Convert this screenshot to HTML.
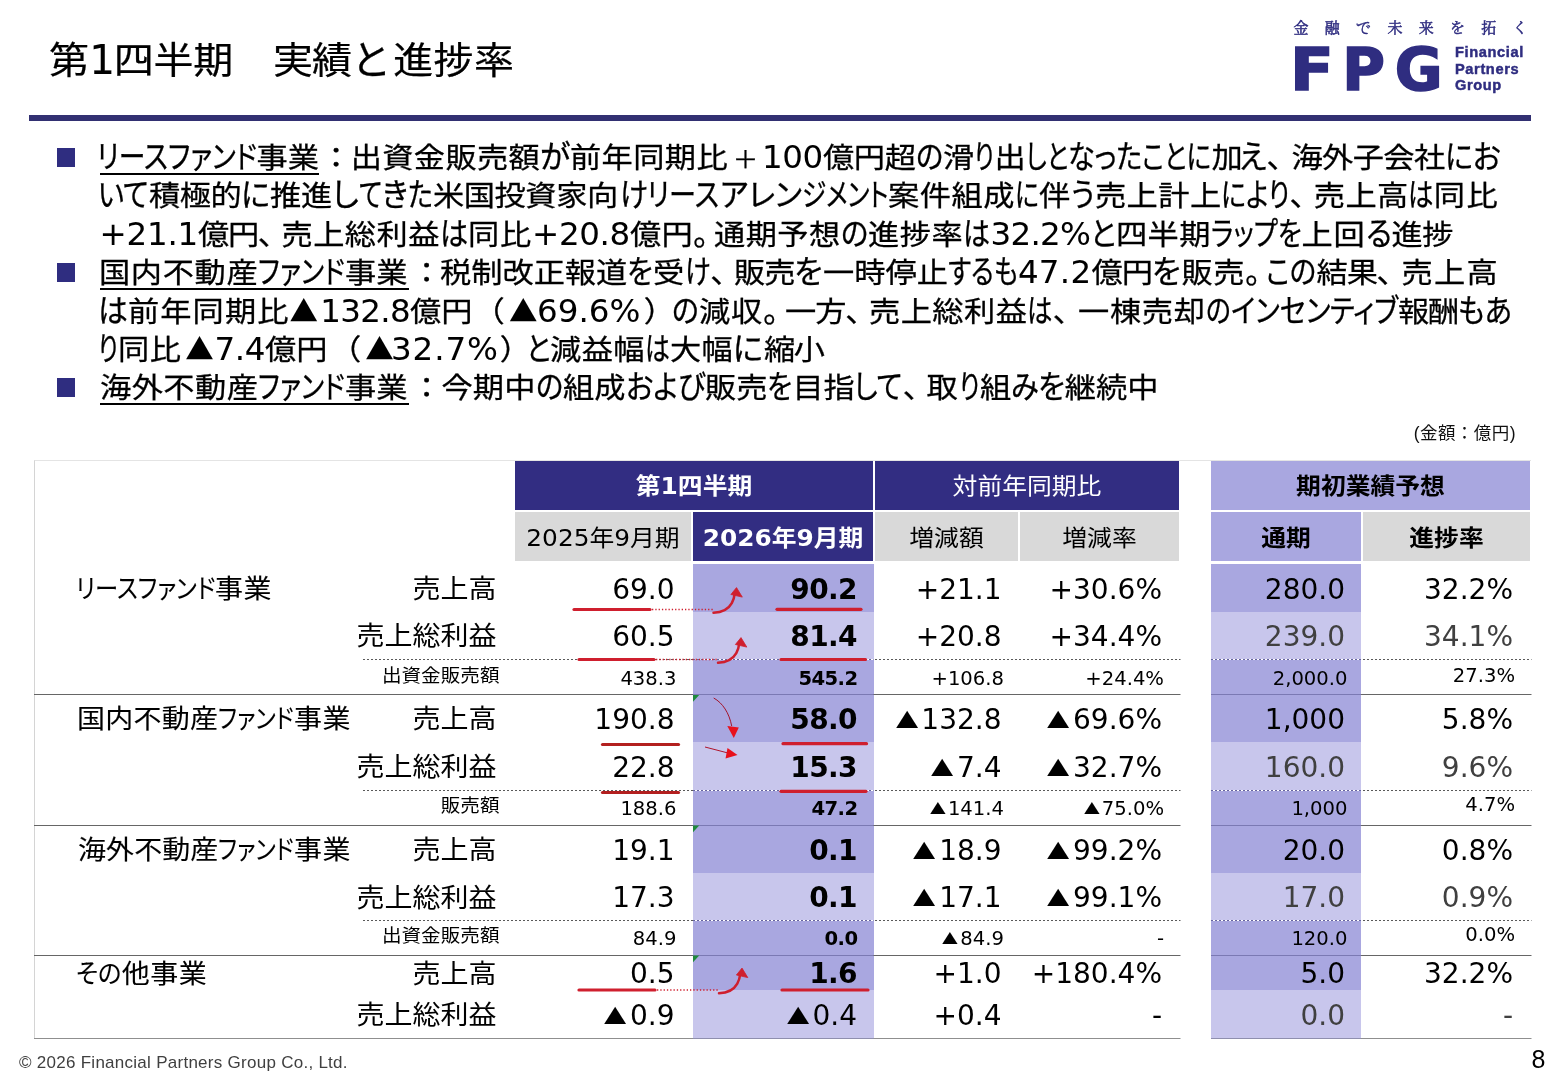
<!DOCTYPE html>
<html lang="ja">
<head>
<meta charset="utf-8">
<title>第1四半期 実績と進捗率</title>
<style>
*{box-sizing:border-box}
html,body{margin:0;padding:0;background:#fff}
body{width:1560px;height:1080px;position:relative;overflow:hidden;font-family:"Liberation Sans","Noto Sans CJK JP",sans-serif;color:#000}
.a{position:absolute;white-space:nowrap}
.j{font-family:"Liberation Sans","Noto Sans CJK JP",sans-serif;font-feature-settings:"palt"}
.t{font-family:"Noto Sans CJK JP","Liberation Sans",sans-serif}
.f{font-family:"Liberation Sans","Noto Sans CJK JP",sans-serif;font-feature-settings:normal}
.n{font-family:"DejaVu Sans","Liberation Sans",sans-serif}
.ln{position:absolute;left:0;white-space:nowrap;font-size:30px;line-height:38px;height:38px}
.ln span{display:inline-block;white-space:nowrap;line-height:0;-webkit-text-stroke:0.3px #000}
.ln .n{font-size:32.5px;-webkit-text-stroke:0.05px #000}
.ln .p{font-family:"Liberation Sans","Noto Sans CJK JP",sans-serif;font-size:25.5px}
.ln .t{font-size:28.5px;-webkit-text-stroke:0}
.gl span{-webkit-text-stroke:0.1px #000}
.gl{transform:scaleY(0.94);transform-origin:0 50%}
.tr{display:inline-block;font-size:0.8em;line-height:1;transform:scale(1.04,0.95) translateY(-0.04em);transform-origin:50% 85%;margin-right:0.15em;-webkit-text-stroke:0}
.sy{display:inline-block;transform:scaleY(0.92) translateY(1.5px)}
.lb{transform:scaleY(0.94);transform-origin:100% 50%}
.tl span{-webkit-text-stroke:0.25px #000}
.tl .n{font-size:40.5px;-webkit-text-stroke:0.1px #000}
.bul{position:absolute;left:57px;width:18px;height:19px;background:#2f2d80}
.c{position:absolute;white-space:nowrap;text-align:right;line-height:1}
.b{font-weight:bold;letter-spacing:-0.6px}
.g{color:#404040}
</style>
</head>
<body>
<div class="ln tl" style="left:49.00px;top:32.0px;font-size:40px;line-height:56px;height:56px"><span class="f" style="width:40.30px;transform:scaleY(0.925);transform-origin:0 16.7px;">第</span><span class="n" style="width:24.40px;">1</span><span class="f" style="width:159.30px;transform:scaleY(0.925);transform-origin:0 16.7px;letter-spacing:-0.17px">四半期　</span><span class="f" style="width:78.20px;transform:scaleY(0.925);transform-origin:0 16.7px;letter-spacing:-0.90px">実績</span><span class="f" style="width:42.00px;">と</span><span class="f" style="width:121.20px;transform:scaleY(0.925);transform-origin:0 16.7px;letter-spacing:0.40px">進捗率</span></div>
<div class="a" style="left:29px;top:115px;width:1502px;height:6px;background:#323072"></div>
<div class="a" style="left:1293.5px;top:16px;font-family:'Noto Serif CJK JP','Noto Serif CJK SC',serif;font-size:15px;line-height:22px;letter-spacing:16.3px;color:#2f2d80;-webkit-text-stroke:0.5px #2f2d80">金融で未来を拓く</div>
<div class="a" style="left:1290px;top:34px;font-family:'DejaVu Sans','Liberation Sans',sans-serif;font-weight:bold;font-size:58.3px;line-height:72px;letter-spacing:9.8px;color:#2f2d80;-webkit-text-stroke:1.6px #2f2d80"><span style="display:inline-block;letter-spacing:0;margin-right:12.5px;transform:scaleX(1.1);transform-origin:0 50%">F</span>PG</div>
<div class="a" style="left:1455px;top:44.2px;font-family:'Liberation Sans',sans-serif;font-weight:bold;font-size:14.6px;line-height:16.5px;letter-spacing:0.62px;color:#2f2d80;-webkit-text-stroke:0.45px #2f2d80;white-space:normal;width:90px">Financial <br>Partners <br>Group</div>
<div class="bul" style="top:148.0px"></div>
<div class="bul" style="top:263.2px"></div>
<div class="bul" style="top:378.4px"></div>
<div class="ln " style="left:96.58px;top:139.0px;font-size:31.25px;line-height:38px;height:38px"><span class="j" style="width:159.92px;transform:scaleX(0.8559);transform-origin:0 50%">リースファンド</span><span class="j" style="width:71.80px;transform:scaleY(0.925);transform-origin:0 13.0px;letter-spacing:0.00px">事業</span><span class="j" style="width:22.50px;transform:scaleY(0.925);transform-origin:0 13.0px;">：</span><span class="j" style="width:189.24px;transform:scaleY(0.925);transform-origin:0 13.0px;letter-spacing:0.29px">出資金販売額</span><span class="j" style="width:29.96px;transform:scaleX(0.9792);transform-origin:0 50%">が</span><span class="j" style="width:162.70px;transform:scaleY(0.925);transform-origin:0 13.0px;letter-spacing:0.38px">前年同期比</span><span class="p" style="width:29.30px;transform:scaleY(0.925);transform-origin:0 13.0px;">＋</span><span class="n" style="width:61.00px;letter-spacing:-0.35px">100</span><span class="j" style="width:92.69px;transform:scaleY(0.925);transform-origin:0 13.0px;letter-spacing:-0.35px">億円超</span><span class="j" style="width:27.31px;transform:scaleX(0.9067);transform-origin:0 50%">の</span><span class="j" style="width:31.41px;transform:scaleY(0.925);transform-origin:0 13.0px;">滑</span><span class="j" style="width:20.09px;transform:scaleX(0.7729);transform-origin:0 50%">り</span><span class="j" style="width:31.58px;transform:scaleY(0.925);transform-origin:0 13.0px;">出</span><span class="j" style="width:42.32px;transform:scaleX(0.7846);transform-origin:0 50%">しと</span><span class="j" style="width:74.16px;transform:scaleX(0.8683);transform-origin:0 50%">なった</span><span class="j" style="width:68.94px;transform:scaleX(0.8144);transform-origin:0 50%">ことに</span><span class="j" style="width:28.09px;transform:scaleY(0.925);transform-origin:0 13.0px;">加</span><span class="j" style="width:27.41px;transform:scaleX(0.9691);transform-origin:0 50%">え</span><span class="j" style="width:24.50px;">、</span><span class="j" style="width:153.21px;transform:scaleY(0.925);transform-origin:0 13.0px;letter-spacing:-0.61px">海外子会社</span><span class="j" style="width:55.77px;transform:scaleX(0.9286);transform-origin:0 50%">にお</span></div>
<div class="ln " style="left:98.35px;top:177.4px;font-size:31.25px;line-height:38px;height:38px"><span class="j" style="width:50.65px;transform:scaleX(0.8838);transform-origin:0 50%">いて</span><span class="j" style="width:92.12px;transform:scaleY(0.925);transform-origin:0 13.0px;letter-spacing:-0.54px">積極的</span><span class="j" style="width:28.88px;transform:scaleX(0.9596);transform-origin:0 50%">に</span><span class="j" style="width:62.20px;transform:scaleY(0.925);transform-origin:0 13.0px;letter-spacing:-0.15px">推進</span><span class="j" style="width:26.69px;">し</span><span class="j" style="width:23.26px;transform:scaleX(0.8089);transform-origin:0 50%">て</span><span class="j" style="width:25.99px;transform:scaleX(0.9514);transform-origin:0 50%">き</span><span class="j" style="width:24.87px;transform:scaleX(0.8342);transform-origin:0 50%">た</span><span class="j" style="width:154.00px;transform:scaleY(0.925);transform-origin:0 13.0px;letter-spacing:-0.45px">米国投資家</span><span class="j" style="width:32.77px;transform:scaleY(0.925);transform-origin:0 13.0px;">向</span><span class="j" style="width:27.75px;transform:scaleX(0.9099);transform-origin:0 50%">け</span><span class="j" style="width:72.06px;transform:scaleX(0.8692);transform-origin:0 50%">リース</span><span class="j" style="width:82.06px;transform:scaleX(0.9725);transform-origin:0 50%">アレン</span><span class="j" style="width:86.36px;transform:scaleX(0.7873);transform-origin:0 50%">ジメント</span><span class="j" style="width:127.12px;transform:scaleY(0.925);transform-origin:0 13.0px;letter-spacing:0.53px">案件組成</span><span class="j" style="width:23.88px;transform:scaleX(0.7936);transform-origin:0 50%">に</span><span class="j" style="width:32.26px;transform:scaleY(0.925);transform-origin:0 13.0px;">伴</span><span class="j" style="width:23.74px;transform:scaleX(0.9143);transform-origin:0 50%">う</span><span class="j" style="width:95.00px;transform:scaleY(0.925);transform-origin:0 13.0px;letter-spacing:0.42px">売上計</span><span class="j" style="width:31.52px;transform:scaleY(0.925);transform-origin:0 13.0px;">上</span><span class="j" style="width:68.48px;transform:scaleX(0.8276);transform-origin:0 50%">により</span><span class="j" style="width:24.00px;">、</span><span class="j" style="width:94.56px;transform:scaleY(0.925);transform-origin:0 13.0px;letter-spacing:0.27px">売上高</span><span class="j" style="width:25.44px;transform:scaleX(0.8142);transform-origin:0 50%">は</span><span class="j" style="width:65.50px;transform:scaleY(0.925);transform-origin:0 13.0px;letter-spacing:1.50px">同比</span></div>
<div class="ln " style="left:99.50px;top:215.8px;font-size:31.25px;line-height:38px;height:38px"><span class="n" style="width:98.50px;letter-spacing:-0.22px">+21.1</span><span class="j" style="width:60.00px;transform:scaleY(0.925);transform-origin:0 13.0px;letter-spacing:-1.25px">億円</span><span class="j" style="width:23.50px;">、</span><span class="j" style="width:158.29px;transform:scaleY(0.925);transform-origin:0 13.0px;letter-spacing:0.41px">売上総利益</span><span class="j" style="width:28.21px;transform:scaleX(0.9027);transform-origin:0 50%">は</span><span class="j" style="width:64.00px;transform:scaleY(0.925);transform-origin:0 13.0px;letter-spacing:0.75px">同比</span><span class="n" style="width:98.00px;letter-spacing:-0.32px">+20.8</span><span class="j" style="width:63.00px;transform:scaleY(0.925);transform-origin:0 13.0px;letter-spacing:0.25px">億円</span><span class="j" style="width:21.00px;">。</span><span class="j" style="width:126.69px;transform:scaleY(0.925);transform-origin:0 13.0px;letter-spacing:0.42px">通期予想</span><span class="j" style="width:27.31px;transform:scaleX(0.9067);transform-origin:0 50%">の</span><span class="j" style="width:95.40px;transform:scaleY(0.925);transform-origin:0 13.0px;letter-spacing:0.55px">進捗率</span><span class="j" style="width:27.10px;transform:scaleX(0.8673);transform-origin:0 50%">は</span><span class="n" style="width:99.84px;letter-spacing:-0.68px">32.2%</span><span class="j" style="width:25.66px;transform:scaleX(0.9321);transform-origin:0 50%">と</span><span class="j" style="width:94.84px;transform:scaleY(0.925);transform-origin:0 13.0px;letter-spacing:0.36px">四半期</span><span class="j" style="width:90.66px;transform:scaleX(0.8301);transform-origin:0 50%">ラップを</span><span class="j" style="width:64.15px;transform:scaleY(0.925);transform-origin:0 13.0px;letter-spacing:0.83px">上回</span><span class="j" style="width:25.85px;transform:scaleX(0.9231);transform-origin:0 50%">る</span><span class="j" style="width:61.50px;transform:scaleY(0.925);transform-origin:0 13.0px;letter-spacing:-0.50px">進捗</span></div>
<div class="ln " style="left:99.00px;top:254.2px;font-size:31.25px;line-height:38px;height:38px"><span class="j" style="width:159.33px;transform:scaleY(0.925);transform-origin:0 13.0px;letter-spacing:0.62px">国内不動産</span><span class="j" style="width:86.67px;transform:scaleX(0.8338);transform-origin:0 50%">ファンド</span><span class="j" style="width:73.80px;transform:scaleY(0.925);transform-origin:0 13.0px;letter-spacing:0.00px">事業</span><span class="j" style="width:21.20px;transform:scaleY(0.925);transform-origin:0 13.0px;">：</span><span class="j" style="width:187.33px;transform:scaleY(0.925);transform-origin:0 13.0px;letter-spacing:-0.03px">税制改正報道</span><span class="j" style="width:25.67px;transform:scaleX(0.8900);transform-origin:0 50%">を</span><span class="j" style="width:31.99px;transform:scaleY(0.925);transform-origin:0 13.0px;">受</span><span class="j" style="width:25.51px;transform:scaleX(0.8364);transform-origin:0 50%">け</span><span class="j" style="width:23.50px;">、</span><span class="j" style="width:60.54px;transform:scaleY(0.925);transform-origin:0 13.0px;letter-spacing:-0.98px">販売</span><span class="j" style="width:28.46px;transform:scaleX(0.9867);transform-origin:0 50%">を</span><span class="j" style="width:125.19px;transform:scaleY(0.925);transform-origin:0 13.0px;letter-spacing:0.05px">一時停止</span><span class="j" style="width:69.81px;transform:scaleX(0.8133);transform-origin:0 50%">するも</span><span class="n" style="width:73.50px;letter-spacing:0.28px">47.2</span><span class="j" style="width:60.50px;transform:scaleY(0.925);transform-origin:0 13.0px;letter-spacing:-1.00px">億円</span><span class="j" style="width:29.50px;">を</span><span class="j" style="width:63.50px;transform:scaleY(0.925);transform-origin:0 13.0px;letter-spacing:0.50px">販売</span><span class="j" style="width:21.37px;">。</span><span class="j" style="width:50.13px;transform:scaleX(0.8771);transform-origin:0 50%">この</span><span class="j" style="width:60.50px;transform:scaleY(0.925);transform-origin:0 13.0px;letter-spacing:-1.00px">結果</span><span class="j" style="width:24.50px;">、</span><span class="j" style="width:97.50px;transform:scaleY(0.925);transform-origin:0 13.0px;letter-spacing:1.25px">売上高</span></div>
<div class="ln " style="left:98.13px;top:292.6px;font-size:31.25px;line-height:38px;height:38px"><span class="j" style="width:29.87px;transform:scaleX(0.9558);transform-origin:0 50%">は</span><span class="j" style="width:161.60px;transform:scaleY(0.925);transform-origin:0 13.0px;letter-spacing:1.07px">前年同期比</span><span class="t" style="width:30.70px;">▲</span><span class="n" style="width:89.70px;letter-spacing:-0.67px">132.8</span><span class="j" style="width:78.00px;transform:scaleY(0.925);transform-origin:0 13.0px;letter-spacing:0.00px">億円</span><span class="j" style="width:21.00px;transform:scaleY(0.925);transform-origin:0 13.0px;">（</span><span class="t" style="width:28.00px;">▲</span><span class="n" style="width:108.00px;letter-spacing:0.07px">69.6%</span><span class="j" style="width:27.22px;transform:scaleY(0.925);transform-origin:0 13.0px;">）</span><span class="j" style="width:26.78px;transform:scaleX(0.8889);transform-origin:0 50%">の</span><span class="j" style="width:64.00px;transform:scaleY(0.925);transform-origin:0 13.0px;letter-spacing:0.75px">減収</span><span class="j" style="width:22.00px;">。</span><span class="j" style="width:60.50px;transform:scaleY(0.925);transform-origin:0 13.0px;letter-spacing:-1.00px">一方</span><span class="j" style="width:23.50px;">、</span><span class="j" style="width:158.56px;transform:scaleY(0.925);transform-origin:0 13.0px;letter-spacing:0.46px">売上総利益</span><span class="j" style="width:25.44px;transform:scaleX(0.8142);transform-origin:0 50%">は</span><span class="j" style="width:25.00px;">、</span><span class="j" style="width:127.85px;transform:scaleY(0.925);transform-origin:0 13.0px;letter-spacing:0.71px">一棟売却</span><span class="j" style="width:24.89px;transform:scaleX(0.8262);transform-origin:0 50%">の</span><span class="j" style="width:99.39px;transform:scaleX(0.8813);transform-origin:0 50%">インセン</span><span class="j" style="width:67.87px;transform:scaleX(0.8701);transform-origin:0 50%">ティブ</span><span class="j" style="width:60.20px;transform:scaleY(0.925);transform-origin:0 13.0px;letter-spacing:-1.15px">報酬</span><span class="j" style="width:54.02px;transform:scaleX(0.9018);transform-origin:0 50%">もあ</span></div>
<div class="ln " style="left:97.91px;top:331.0px;font-size:31.25px;line-height:38px;height:38px"><span class="j" style="width:20.09px;transform:scaleX(0.7729);transform-origin:0 50%">り</span><span class="j" style="width:67.30px;transform:scaleY(0.925);transform-origin:0 13.0px;letter-spacing:0.60px">同比</span><span class="t" style="width:29.20px;">▲</span><span class="n" style="width:50.50px;letter-spacing:-0.40px">7.4</span><span class="j" style="width:79.50px;transform:scaleY(0.925);transform-origin:0 13.0px;letter-spacing:0.00px">億円</span><span class="j" style="width:20.80px;transform:scaleY(0.925);transform-origin:0 13.0px;">（</span><span class="t" style="width:25.70px;">▲</span><span class="n" style="width:110.00px;letter-spacing:0.92px">32.7%</span><span class="j" style="width:24.56px;transform:scaleY(0.925);transform-origin:0 13.0px;">）</span><span class="j" style="width:24.44px;transform:scaleX(0.8878);transform-origin:0 50%">と</span><span class="j" style="width:95.11px;transform:scaleY(0.925);transform-origin:0 13.0px;letter-spacing:0.45px">減益幅</span><span class="j" style="width:24.89px;transform:scaleX(0.7965);transform-origin:0 50%">は</span><span class="j" style="width:63.00px;transform:scaleY(0.925);transform-origin:0 13.0px;letter-spacing:0.25px">大幅</span><span class="j" style="width:31.00px;">に</span><span class="j" style="width:59.50px;transform:scaleY(0.925);transform-origin:0 13.0px;letter-spacing:-1.50px">縮小</span></div>
<div class="ln " style="left:100.00px;top:369.4px;font-size:31.25px;line-height:38px;height:38px"><span class="j" style="width:158.33px;transform:scaleY(0.925);transform-origin:0 13.0px;letter-spacing:0.42px">海外不動産</span><span class="j" style="width:86.67px;transform:scaleX(0.8338);transform-origin:0 50%">ファンド</span><span class="j" style="width:73.80px;transform:scaleY(0.925);transform-origin:0 13.0px;letter-spacing:0.00px">事業</span><span class="j" style="width:22.70px;transform:scaleY(0.925);transform-origin:0 13.0px;">：</span><span class="j" style="width:94.19px;transform:scaleY(0.925);transform-origin:0 13.0px;letter-spacing:0.15px">今期中</span><span class="j" style="width:27.31px;transform:scaleX(0.9067);transform-origin:0 50%">の</span><span class="j" style="width:62.69px;transform:scaleY(0.925);transform-origin:0 13.0px;letter-spacing:0.09px">組成</span><span class="j" style="width:79.31px;transform:scaleX(0.9074);transform-origin:0 50%">および</span><span class="j" style="width:62.39px;transform:scaleY(0.925);transform-origin:0 13.0px;letter-spacing:-0.06px">販売</span><span class="j" style="width:25.11px;transform:scaleX(0.8706);transform-origin:0 50%">を</span><span class="j" style="width:62.03px;transform:scaleY(0.925);transform-origin:0 13.0px;letter-spacing:-0.24px">目指</span><span class="j" style="width:48.47px;transform:scaleX(0.8940);transform-origin:0 50%">して</span><span class="j" style="width:23.50px;">、</span><span class="j" style="width:32.82px;transform:scaleY(0.925);transform-origin:0 13.0px;">取</span><span class="j" style="width:20.68px;transform:scaleX(0.7956);transform-origin:0 50%">り</span><span class="j" style="width:30.70px;transform:scaleY(0.925);transform-origin:0 13.0px;">組</span><span class="j" style="width:27.51px;transform:scaleX(0.9003);transform-origin:0 50%">み</span><span class="j" style="width:26.79px;transform:scaleX(0.9287);transform-origin:0 50%">を</span><span class="j" style="width:93.75px;transform:scaleY(0.925);transform-origin:0 13.0px;letter-spacing:0.00px">継続中</span></div>
<div class="a" style="left:99.5px;top:172.6px;width:219.3px;height:2px;background:#000"></div>
<div class="a" style="left:99.5px;top:287.8px;width:309.5px;height:2px;background:#000"></div>
<div class="a" style="left:99.5px;top:403.0px;width:309.5px;height:2px;background:#000"></div>
<div class="a f" style="right:44px;top:421.5px;font-size:17.5px;line-height:22px;letter-spacing:0.45px;color:#111">(金額：億円)</div>
<div class="a" style="left:34px;top:460px;width:1497px;height:578px;border-left:1px solid #d4d4d4;border-top:1px solid #e4e4e4"></div>
<div class="a" style="left:515px;top:461px;width:358px;height:48.5px;background:#322d82;color:#fff;font-weight:bold;font-size:24.8px;line-height:48.5px;text-align:center"><span class="sy">第<span class="n">1</span>四半期</span></div>
<div class="a" style="left:875px;top:461px;width:304px;height:48.5px;background:#322d82;color:#fff;font-size:24.8px;line-height:48.5px;text-align:center"><span class="sy">対前年同期比</span></div>
<div class="a" style="left:1211px;top:461px;width:319px;height:48.5px;background:#a9a7e0;color:#000;font-weight:bold;font-size:24.8px;line-height:48.5px;text-align:center"><span class="sy">期初業績予想</span></div>
<div class="a" style="left:515px;top:512px;width:176px;height:49px;background:#d9d9d9;color:#000;font-size:24.8px;line-height:49px;text-align:center"><span class="sy"><span class="n">2025</span>年<span class="n">9</span>月期</span></div>
<div class="a" style="left:693px;top:512px;width:180px;height:49px;background:#322d82;color:#fff;font-weight:bold;font-size:24.8px;line-height:49px;text-align:center"><span class="sy"><span class="n">2026</span>年<span class="n">9</span>月期</span></div>
<div class="a" style="left:875px;top:512px;width:143px;height:49px;background:#d9d9d9;color:#000;font-size:24.8px;line-height:49px;text-align:center"><span class="sy">増減額</span></div>
<div class="a" style="left:1020px;top:512px;width:159px;height:49px;background:#d9d9d9;color:#000;font-size:24.8px;line-height:49px;text-align:center"><span class="sy">増減率</span></div>
<div class="a" style="left:1211px;top:512px;width:150px;height:49px;background:#a9a7e0;color:#000;font-weight:bold;font-size:24.8px;line-height:49px;text-align:center"><span class="sy">通期</span></div>
<div class="a" style="left:1363px;top:512px;width:167px;height:49px;background:#d9d9d9;color:#000;font-weight:bold;font-size:24.8px;line-height:49px;text-align:center"><span class="sy">進捗率</span></div>
<div class="a" style="left:693px;top:563.5px;width:180.5px;height:48.5px;background:#a9a7e0"></div>
<div class="a" style="left:693px;top:612px;width:180.5px;height:48px;background:#c8c6ec"></div>
<div class="a" style="left:693px;top:660px;width:180.5px;height:34.5px;background:#a9a7e0"></div>
<div class="a" style="left:693px;top:694.5px;width:180.5px;height:47.5px;background:#a9a7e0"></div>
<div class="a" style="left:693px;top:742px;width:180.5px;height:48px;background:#c8c6ec"></div>
<div class="a" style="left:693px;top:790px;width:180.5px;height:35px;background:#a9a7e0"></div>
<div class="a" style="left:693px;top:825px;width:180.5px;height:47.5px;background:#a9a7e0"></div>
<div class="a" style="left:693px;top:872.5px;width:180.5px;height:47.5px;background:#c8c6ec"></div>
<div class="a" style="left:693px;top:920px;width:180.5px;height:35px;background:#a9a7e0"></div>
<div class="a" style="left:693px;top:955px;width:180.5px;height:35px;background:#a9a7e0"></div>
<div class="a" style="left:693px;top:990px;width:180.5px;height:48px;background:#c8c6ec"></div>
<div class="a" style="left:1211px;top:563.5px;width:150px;height:48.5px;background:#a9a7e0"></div>
<div class="a" style="left:1211px;top:612px;width:150px;height:48px;background:#c8c6ec"></div>
<div class="a" style="left:1211px;top:660px;width:150px;height:34.5px;background:#a9a7e0"></div>
<div class="a" style="left:1211px;top:694.5px;width:150px;height:47.5px;background:#a9a7e0"></div>
<div class="a" style="left:1211px;top:742px;width:150px;height:48px;background:#c8c6ec"></div>
<div class="a" style="left:1211px;top:790px;width:150px;height:35px;background:#a9a7e0"></div>
<div class="a" style="left:1211px;top:825px;width:150px;height:47.5px;background:#a9a7e0"></div>
<div class="a" style="left:1211px;top:872.5px;width:150px;height:47.5px;background:#c8c6ec"></div>
<div class="a" style="left:1211px;top:920px;width:150px;height:35px;background:#a9a7e0"></div>
<div class="a" style="left:1211px;top:955px;width:150px;height:35px;background:#a9a7e0"></div>
<div class="a" style="left:1211px;top:990px;width:150px;height:48px;background:#c8c6ec"></div>
<svg class="a" style="left:0;top:0" width="1560" height="1080" viewBox="0 0 1560 1080"><line x1="34" y1="694.5" x2="1180.5" y2="694.5" stroke="#666666" stroke-width="1"/><line x1="693" y1="694.5" x2="873.5" y2="694.5" stroke="#7b79b3" stroke-width="1"/><line x1="1211" y1="694.5" x2="1531.5" y2="694.5" stroke="#666666" stroke-width="1"/><line x1="1211" y1="694.5" x2="1361" y2="694.5" stroke="#7b79b3" stroke-width="1"/><line x1="34" y1="825.5" x2="1180.5" y2="825.5" stroke="#666666" stroke-width="1"/><line x1="693" y1="825.5" x2="873.5" y2="825.5" stroke="#7b79b3" stroke-width="1"/><line x1="1211" y1="825.5" x2="1531.5" y2="825.5" stroke="#666666" stroke-width="1"/><line x1="1211" y1="825.5" x2="1361" y2="825.5" stroke="#7b79b3" stroke-width="1"/><line x1="34" y1="955.5" x2="1180.5" y2="955.5" stroke="#666666" stroke-width="1"/><line x1="693" y1="955.5" x2="873.5" y2="955.5" stroke="#7b79b3" stroke-width="1"/><line x1="1211" y1="955.5" x2="1531.5" y2="955.5" stroke="#666666" stroke-width="1"/><line x1="1211" y1="955.5" x2="1361" y2="955.5" stroke="#7b79b3" stroke-width="1"/><line x1="34" y1="1038.5" x2="1180.5" y2="1038.5" stroke="#8f8f8f" stroke-width="1"/><line x1="693" y1="1038.5" x2="873.5" y2="1038.5" stroke="#8f8fae" stroke-width="1"/><line x1="1211" y1="1038.5" x2="1531.5" y2="1038.5" stroke="#8f8f8f" stroke-width="1"/><line x1="1211" y1="1038.5" x2="1361" y2="1038.5" stroke="#8f8fae" stroke-width="1"/><line x1="363" y1="659.5" x2="1180.5" y2="659.5" stroke="#5a5a5a" stroke-width="1" stroke-dasharray="2 2"/><line x1="1211" y1="659.5" x2="1531.5" y2="659.5" stroke="#5a5a5a" stroke-width="1" stroke-dasharray="2 2"/><line x1="693" y1="659.5" x2="873.5" y2="659.5" stroke="#ffffff" stroke-width="1"/><line x1="693" y1="659.5" x2="873.5" y2="659.5" stroke="#66649f" stroke-width="1" stroke-dasharray="2 2"/><line x1="1211" y1="659.5" x2="1361" y2="659.5" stroke="#ffffff" stroke-width="1"/><line x1="1211" y1="659.5" x2="1361" y2="659.5" stroke="#66649f" stroke-width="1" stroke-dasharray="2 2"/><line x1="363" y1="790.5" x2="1180.5" y2="790.5" stroke="#5a5a5a" stroke-width="1" stroke-dasharray="2 2"/><line x1="1211" y1="790.5" x2="1531.5" y2="790.5" stroke="#5a5a5a" stroke-width="1" stroke-dasharray="2 2"/><line x1="693" y1="790.5" x2="873.5" y2="790.5" stroke="#ffffff" stroke-width="1"/><line x1="693" y1="790.5" x2="873.5" y2="790.5" stroke="#66649f" stroke-width="1" stroke-dasharray="2 2"/><line x1="1211" y1="790.5" x2="1361" y2="790.5" stroke="#ffffff" stroke-width="1"/><line x1="1211" y1="790.5" x2="1361" y2="790.5" stroke="#66649f" stroke-width="1" stroke-dasharray="2 2"/><line x1="363" y1="920.5" x2="1180.5" y2="920.5" stroke="#5a5a5a" stroke-width="1" stroke-dasharray="2 2"/><line x1="1211" y1="920.5" x2="1531.5" y2="920.5" stroke="#5a5a5a" stroke-width="1" stroke-dasharray="2 2"/><line x1="693" y1="920.5" x2="873.5" y2="920.5" stroke="#ffffff" stroke-width="1"/><line x1="693" y1="920.5" x2="873.5" y2="920.5" stroke="#66649f" stroke-width="1" stroke-dasharray="2 2"/><line x1="1211" y1="920.5" x2="1361" y2="920.5" stroke="#ffffff" stroke-width="1"/><line x1="1211" y1="920.5" x2="1361" y2="920.5" stroke="#66649f" stroke-width="1" stroke-dasharray="2 2"/><path d="M693 695h6.2l-6.2 6.8z" fill="#1e8a3c"/><path d="M693 825.5h6.2l-6.2 6.8z" fill="#1e8a3c"/><path d="M693 955.5h6.2l-6.2 6.8z" fill="#1e8a3c"/><line x1="574" y1="609.5" x2="650" y2="609.5" stroke="#cf1f2e" stroke-width="3.2" stroke-linecap="round"/><line x1="777" y1="609.3" x2="861" y2="609.3" stroke="#cf1f2e" stroke-width="3.2" stroke-linecap="round"/><line x1="579" y1="659.5" x2="654" y2="659.5" stroke="#cf1f2e" stroke-width="3.2" stroke-linecap="round"/><line x1="781" y1="659.5" x2="865.5" y2="659.5" stroke="#cf1f2e" stroke-width="3.2" stroke-linecap="round"/><line x1="602.5" y1="744.5" x2="678.5" y2="744.5" stroke="#b3201f" stroke-width="3.2" stroke-linecap="round"/><line x1="783" y1="743.7" x2="866.5" y2="743.7" stroke="#cf1f2e" stroke-width="3.2" stroke-linecap="round"/><line x1="602.5" y1="792.5" x2="678.5" y2="792.5" stroke="#b3201f" stroke-width="3.2" stroke-linecap="round"/><line x1="781" y1="791.3" x2="866" y2="791.3" stroke="#cf1f2e" stroke-width="3.2" stroke-linecap="round"/><line x1="579" y1="990" x2="655" y2="990" stroke="#cf1f2e" stroke-width="3.2" stroke-linecap="round"/><line x1="782" y1="990" x2="868" y2="990" stroke="#cf1f2e" stroke-width="3.2" stroke-linecap="round"/><line x1="652" y1="609.5" x2="713" y2="609.5" stroke="#cf1f2e" stroke-width="1.3" stroke-dasharray="1.3 2"/><path d="M713.5 612.8c8.5 -0.3 15 -3.6 18.3 -9.6c1.7 -3.2 2.6 -6.4 2.9 -9.5" fill="none" stroke="#cf1f2e" stroke-width="2.5" stroke-linecap="round"/><path d="M736.5 587.6l-5.6 6.9 11.4 2.6z" fill="#cf1f2e" stroke="#cf1f2e" stroke-width="0.8" stroke-linejoin="round"/><line x1="656" y1="659.5" x2="717" y2="659.5" stroke="#cf1f2e" stroke-width="1.3" stroke-dasharray="1.3 2"/><path d="M718 662.8c8.5 -0.3 15 -3.6 18.3 -9.6c1.7 -3.2 2.6 -6.4 2.9 -9.5" fill="none" stroke="#cf1f2e" stroke-width="2.5" stroke-linecap="round"/><path d="M741.0 637.6l-5.6 6.9 11.4 2.6z" fill="#cf1f2e" stroke="#cf1f2e" stroke-width="0.8" stroke-linejoin="round"/><line x1="657" y1="990" x2="718" y2="990" stroke="#cf1f2e" stroke-width="1.3" stroke-dasharray="1.3 2"/><path d="M719 993.3c8.5 -0.3 15 -3.6 18.3 -9.6c1.7 -3.2 2.6 -6.4 2.9 -9.5" fill="none" stroke="#cf1f2e" stroke-width="2.5" stroke-linecap="round"/><path d="M742.0 968.1l-5.6 6.9 11.4 2.6z" fill="#cf1f2e" stroke="#cf1f2e" stroke-width="0.8" stroke-linejoin="round"/><path d="M713.7 698c9 5 15.5 15 18 28" fill="none" stroke="#a3142b" stroke-width="1"/><path d="M727.3 726l11.5 1.5 -5 10.5z" fill="#e8111c"/><path d="M705 747l23 6" fill="none" stroke="#b0142b" stroke-width="1"/><path d="M727.5 748l10 7 -12 3.5z" fill="#e8111c"/></svg>
<div class="ln gl" style="left:75.67px;top:570.7px;font-size:28px;line-height:38px;height:38px"><span class="j" style="width:139.33px;transform:scaleX(0.8322);transform-origin:0 50%">リースファンド</span><span class="j" style="width:57.02px;letter-spacing:0.50px">事業</span></div>
<div class="c j lb" style="right:1063.5px;top:569.7px;font-size:28px;line-height:40px;font-feature-settings:normal">売上高</div>
<div class="c n" style="right:885.5px;top:569.6px;font-size:28px;line-height:39px;">69.0</div>
<div class="c n b" style="right:703.0px;top:569.6px;font-size:28px;line-height:39px;">90.2</div>
<div class="c n" style="right:558.5px;top:569.6px;font-size:28px;line-height:39px;">+21.1</div>
<div class="c n" style="right:398.0px;top:569.6px;font-size:28px;line-height:39px;">+30.6%</div>
<div class="c n" style="right:215.0px;top:569.6px;font-size:28px;line-height:39px;">280.0</div>
<div class="c n" style="right:47.0px;top:569.6px;font-size:28px;line-height:39px;">32.2%</div>
<div class="c j lb" style="right:1063.5px;top:617px;font-size:28px;line-height:40px;font-feature-settings:normal">売上総利益</div>
<div class="c n" style="right:885.5px;top:616.9px;font-size:28px;line-height:39px;">60.5</div>
<div class="c n b" style="right:703.0px;top:616.9px;font-size:28px;line-height:39px;">81.4</div>
<div class="c n" style="right:558.5px;top:616.9px;font-size:28px;line-height:39px;">+20.8</div>
<div class="c n" style="right:398.0px;top:616.9px;font-size:28px;line-height:39px;">+34.4%</div>
<div class="c n g" style="right:215.0px;top:616.9px;font-size:28px;line-height:39px;">239.0</div>
<div class="c n g" style="right:47.0px;top:616.9px;font-size:28px;line-height:39px;">34.1%</div>
<div class="c j lb" style="right:1060.5px;top:655.2px;font-size:19.6px;line-height:40px;font-feature-settings:normal">出資金販売額</div>
<div class="c n" style="right:883.5px;top:665.1px;font-size:19.6px;line-height:27px;">438.3</div>
<div class="c n b" style="right:702.5px;top:665.1px;font-size:19.6px;line-height:27px;">545.2</div>
<div class="c n" style="right:556.0px;top:665.1px;font-size:19.6px;line-height:27px;">+106.8</div>
<div class="c n" style="right:396.0px;top:665.1px;font-size:19.6px;line-height:27px;">+24.4%</div>
<div class="c n" style="right:212.5px;top:665.1px;font-size:19.6px;line-height:27px;">2,000.0</div>
<div class="c n" style="right:45.0px;top:661.8px;font-size:19.6px;line-height:27px;">27.3%</div>
<div class="ln gl" style="left:77.00px;top:701.0px;font-size:28px;line-height:38px;height:38px"><span class="j" style="width:141.38px;letter-spacing:0.27px">国内不動産</span><span class="j" style="width:75.62px;transform:scaleX(0.8119);transform-origin:0 50%">ファンド</span><span class="j" style="width:57.02px;letter-spacing:0.50px">事業</span></div>
<div class="c j lb" style="right:1063.5px;top:700px;font-size:28px;line-height:40px;font-feature-settings:normal">売上高</div>
<div class="c n" style="right:885.5px;top:699.9px;font-size:28px;line-height:39px;">190.8</div>
<div class="c n b" style="right:703.0px;top:699.9px;font-size:28px;line-height:39px;">58.0</div>
<div class="c n" style="right:558.5px;top:699.9px;font-size:28px;line-height:39px;"><span class="t tr">▲</span>132.8</div>
<div class="c n" style="right:398.0px;top:699.9px;font-size:28px;line-height:39px;"><span class="t tr">▲</span>69.6%</div>
<div class="c n" style="right:215.0px;top:699.9px;font-size:28px;line-height:39px;">1,000</div>
<div class="c n" style="right:47.0px;top:699.9px;font-size:28px;line-height:39px;">5.8%</div>
<div class="c j lb" style="right:1063.5px;top:748px;font-size:28px;line-height:40px;font-feature-settings:normal">売上総利益</div>
<div class="c n" style="right:885.5px;top:747.9px;font-size:28px;line-height:39px;">22.8</div>
<div class="c n b" style="right:703.0px;top:747.9px;font-size:28px;line-height:39px;">15.3</div>
<div class="c n" style="right:558.5px;top:747.9px;font-size:28px;line-height:39px;"><span class="t tr">▲</span>7.4</div>
<div class="c n" style="right:398.0px;top:747.9px;font-size:28px;line-height:39px;"><span class="t tr">▲</span>32.7%</div>
<div class="c n g" style="right:215.0px;top:747.9px;font-size:28px;line-height:39px;">160.0</div>
<div class="c n g" style="right:47.0px;top:747.9px;font-size:28px;line-height:39px;">9.6%</div>
<div class="c j lb" style="right:1060.5px;top:784.7px;font-size:19.6px;line-height:40px;font-feature-settings:normal">販売額</div>
<div class="c n" style="right:883.5px;top:794.6px;font-size:19.6px;line-height:27px;">188.6</div>
<div class="c n b" style="right:702.5px;top:794.6px;font-size:19.6px;line-height:27px;">47.2</div>
<div class="c n" style="right:556.0px;top:794.6px;font-size:19.6px;line-height:27px;"><span class="t tr">▲</span>141.4</div>
<div class="c n" style="right:396.0px;top:794.6px;font-size:19.6px;line-height:27px;"><span class="t tr">▲</span>75.0%</div>
<div class="c n" style="right:212.5px;top:794.6px;font-size:19.6px;line-height:27px;">1,000</div>
<div class="c n" style="right:45.0px;top:791.3px;font-size:19.6px;line-height:27px;">4.7%</div>
<div class="ln gl" style="left:78.00px;top:832.0px;font-size:28px;line-height:38px;height:38px"><span class="j" style="width:140.38px;letter-spacing:0.07px">海外不動産</span><span class="j" style="width:75.62px;transform:scaleX(0.8119);transform-origin:0 50%">ファンド</span><span class="j" style="width:57.02px;letter-spacing:0.50px">事業</span></div>
<div class="c j lb" style="right:1063.5px;top:831px;font-size:28px;line-height:40px;font-feature-settings:normal">売上高</div>
<div class="c n" style="right:885.5px;top:830.9px;font-size:28px;line-height:39px;">19.1</div>
<div class="c n b" style="right:703.0px;top:830.9px;font-size:28px;line-height:39px;">0.1</div>
<div class="c n" style="right:558.5px;top:830.9px;font-size:28px;line-height:39px;"><span class="t tr">▲</span>18.9</div>
<div class="c n" style="right:398.0px;top:830.9px;font-size:28px;line-height:39px;"><span class="t tr">▲</span>99.2%</div>
<div class="c n" style="right:215.0px;top:830.9px;font-size:28px;line-height:39px;">20.0</div>
<div class="c n" style="right:47.0px;top:830.9px;font-size:28px;line-height:39px;">0.8%</div>
<div class="c j lb" style="right:1063.5px;top:878.5px;font-size:28px;line-height:40px;font-feature-settings:normal">売上総利益</div>
<div class="c n" style="right:885.5px;top:878.4px;font-size:28px;line-height:39px;">17.3</div>
<div class="c n b" style="right:703.0px;top:878.4px;font-size:28px;line-height:39px;">0.1</div>
<div class="c n" style="right:558.5px;top:878.4px;font-size:28px;line-height:39px;"><span class="t tr">▲</span>17.1</div>
<div class="c n" style="right:398.0px;top:878.4px;font-size:28px;line-height:39px;"><span class="t tr">▲</span>99.1%</div>
<div class="c n g" style="right:215.0px;top:878.4px;font-size:28px;line-height:39px;">17.0</div>
<div class="c n g" style="right:47.0px;top:878.4px;font-size:28px;line-height:39px;">0.9%</div>
<div class="c j lb" style="right:1060.5px;top:914.7px;font-size:19.6px;line-height:40px;font-feature-settings:normal">出資金販売額</div>
<div class="c n" style="right:883.5px;top:924.6px;font-size:19.6px;line-height:27px;">84.9</div>
<div class="c n b" style="right:702.5px;top:924.6px;font-size:19.6px;line-height:27px;">0.0</div>
<div class="c n" style="right:556.0px;top:924.6px;font-size:19.6px;line-height:27px;"><span class="t tr">▲</span>84.9</div>
<div class="c n" style="right:396.0px;top:924.6px;font-size:19.6px;line-height:27px;">-</div>
<div class="c n" style="right:212.5px;top:924.6px;font-size:19.6px;line-height:27px;">120.0</div>
<div class="c n" style="right:45.0px;top:921.3px;font-size:19.6px;line-height:27px;">0.0%</div>
<div class="ln gl" style="left:76.26px;top:955.5px;font-size:28px;line-height:38px;height:38px"><span class="j" style="width:45.44px;transform:scaleX(0.8691);transform-origin:0 50%">その</span><span class="j" style="width:85.52px;letter-spacing:0.50px">他事業</span></div>
<div class="c j lb" style="right:1063.5px;top:954.5px;font-size:28px;line-height:40px;font-feature-settings:normal">売上高</div>
<div class="c n" style="right:885.5px;top:954.4px;font-size:28px;line-height:39px;">0.5</div>
<div class="c n b" style="right:703.0px;top:954.4px;font-size:28px;line-height:39px;">1.6</div>
<div class="c n" style="right:558.5px;top:954.4px;font-size:28px;line-height:39px;">+1.0</div>
<div class="c n" style="right:398.0px;top:954.4px;font-size:28px;line-height:39px;">+180.4%</div>
<div class="c n" style="right:215.0px;top:954.4px;font-size:28px;line-height:39px;">5.0</div>
<div class="c n" style="right:47.0px;top:954.4px;font-size:28px;line-height:39px;">32.2%</div>
<div class="c j lb" style="right:1063.5px;top:996px;font-size:28px;line-height:40px;font-feature-settings:normal">売上総利益</div>
<div class="c n" style="right:885.5px;top:995.9px;font-size:28px;line-height:39px;"><span class="t tr">▲</span>0.9</div>
<div class="c n" style="right:703.0px;top:995.9px;font-size:28px;line-height:39px;"><span class="t tr">▲</span>0.4</div>
<div class="c n" style="right:558.5px;top:995.9px;font-size:28px;line-height:39px;">+0.4</div>
<div class="c n" style="right:398.0px;top:995.9px;font-size:28px;line-height:39px;">-</div>
<div class="c n g" style="right:215.0px;top:995.9px;font-size:28px;line-height:39px;">0.0</div>
<div class="c n g" style="right:47.0px;top:995.9px;font-size:28px;line-height:39px;">-</div>
<div class="a" style="left:19px;top:1052.2px;font-family:'Liberation Sans',sans-serif;font-size:17px;line-height:22px;letter-spacing:0.27px;color:#404040">© 2026 Financial Partners Group Co., Ltd.</div>
<div class="a" style="right:14.6px;top:1044.4px;font-family:'Liberation Sans',sans-serif;font-size:25px;line-height:30px">8</div>
</body>
</html>
